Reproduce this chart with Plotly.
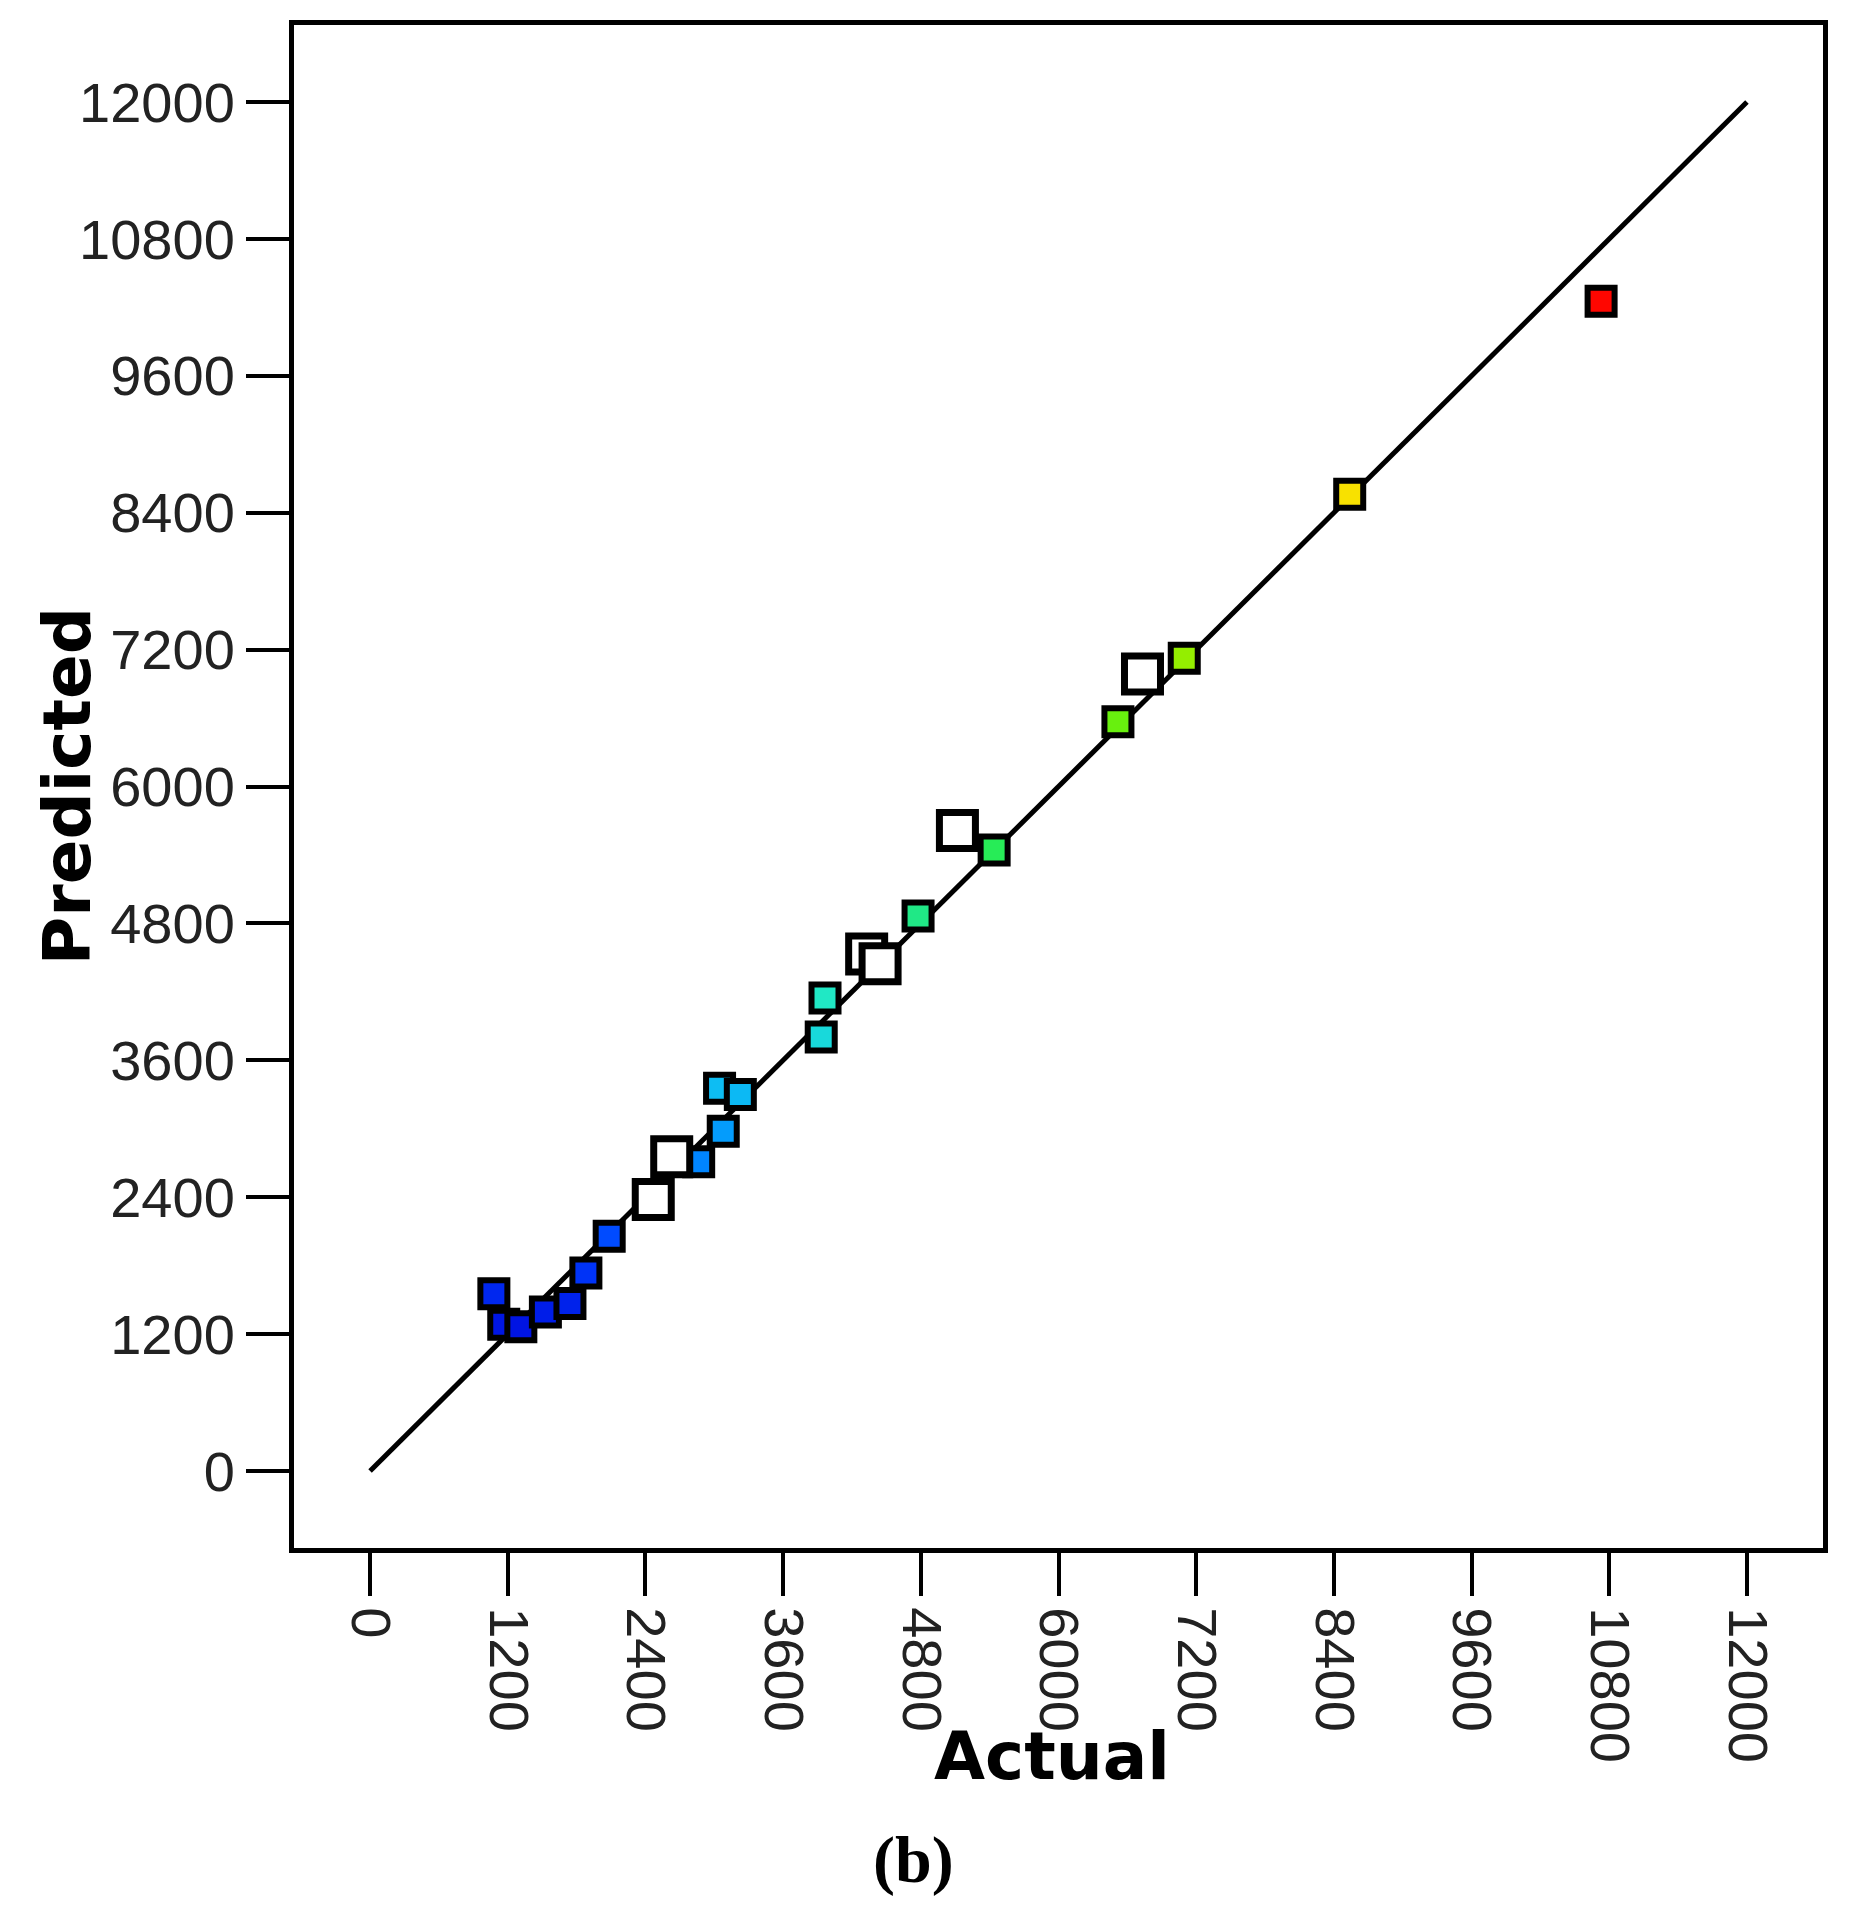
import plotly.graph_objects as go

# actual vs predicted values
actual = [1079, 1165, 1314, 1528, 1742, 1881, 2084, 2864, 3078, 3046, 3227,
          3932, 3965, 4776, 5439, 6518, 7096, 8538, 10729]
predicted = [1554, 1286, 1264, 1393, 1468, 1736, 2057, 2711, 2979, 3354, 3300,
             3804, 4146, 4864, 5443, 6568, 7125, 8561, 10253]
# open (white) squares
open_actual = [2468, 2629, 4328, 4445, 5119, 6732]
open_predicted = [2379, 2754, 4532, 4446, 5614, 6986]

ticks = list(range(0, 12001, 1200))
tick_labels = [str(t) for t in ticks]

jet = [[0, "#0010e0"], [0.08, "#0040ff"], [0.18, "#0090ff"], [0.25, "#10c8f0"],
       [0.32, "#20e8c8"], [0.42, "#20e878"], [0.52, "#30f030"], [0.62, "#80f000"],
       [0.82, "#ffe000"], [1, "#ff0000"]]

fig = go.Figure()
fig.add_trace(go.Scatter(x=[0, 12000], y=[0, 12000], mode="lines",
                         line=dict(color="black", width=5), showlegend=False))
fig.add_trace(go.Scatter(
    x=actual, y=predicted, mode="markers", showlegend=False,
    marker=dict(symbol="square", size=27, color=predicted, colorscale=jet,
                cmin=1200, cmax=10300, line=dict(color="black", width=6))))
fig.add_trace(go.Scatter(
    x=open_actual, y=open_predicted, mode="markers", showlegend=False,
    marker=dict(symbol="square", size=36, color="white",
                line=dict(color="black", width=7))))

axis_common = dict(tickvals=ticks, ticktext=tick_labels, ticks="outside", ticklen=43,
                   tickwidth=4, tickcolor="black", showgrid=False, zeroline=False,
                   showline=True, linecolor="black", linewidth=5, mirror=True,
                   tickfont=dict(family="Liberation Sans", size=56, color="#222"))
fig.update_xaxes(range=[-663, 12663], tickangle=90, **axis_common)
fig.update_yaxes(range=[-675, 12675], **axis_common)

fig.add_annotation(text="<b>Actual</b>", xref="paper", yref="paper", x=0.496, y=-0.137,
                   showarrow=False, yanchor="middle",
                   font=dict(family="DejaVu Sans", size=66, color="black"))
fig.add_annotation(text="<b>Predicted</b>", xref="paper", yref="paper", x=-0.148, y=0.5,
                   textangle=-90, showarrow=False, xanchor="center",
                   font=dict(family="DejaVu Sans", size=66, color="black"))
fig.add_annotation(text="<b>(b)</b>", xref="paper", yref="paper", x=0.405, y=-0.205,
                   showarrow=False, yanchor="middle",
                   font=dict(family="Liberation Serif", size=66, color="black"))

fig.update_layout(width=1863, height=1920, plot_bgcolor="white", paper_bgcolor="white",
                  margin=dict(l=286, r=48, t=13, b=380))
fig.write_html("out.html")
